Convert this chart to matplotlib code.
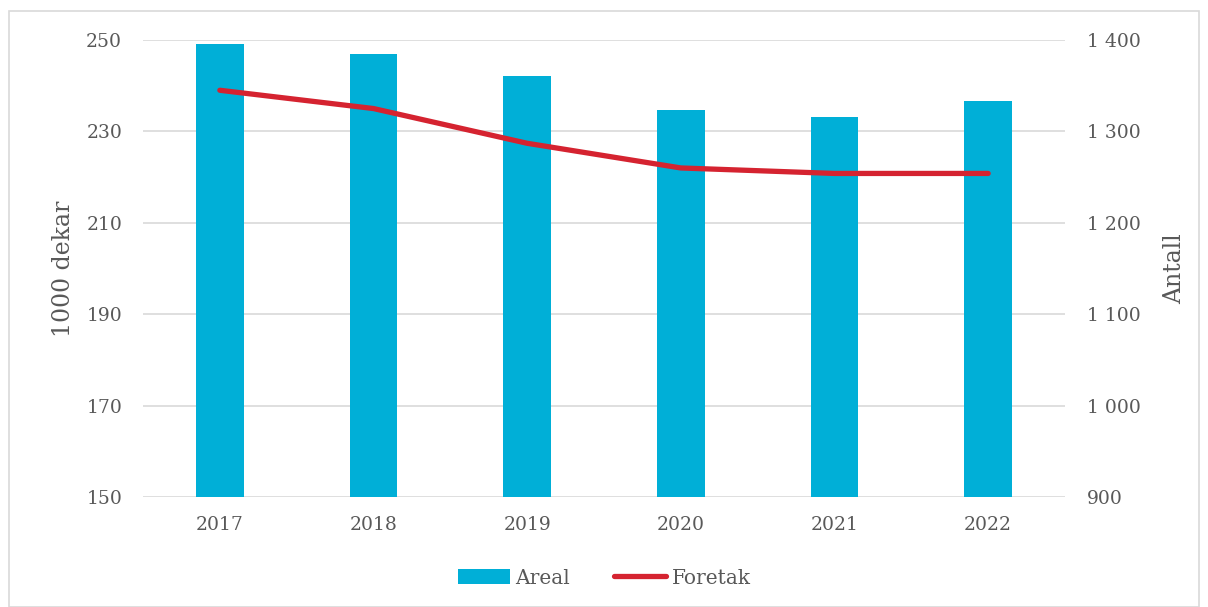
import matplotlib
matplotlib.use("Agg")
import matplotlib.pyplot as plt
from matplotlib.patches import Rectangle
from matplotlib.ticker import FuncFormatter

years = ["2017", "2018", "2019", "2020", "2021", "2022"]
areal = [249.1, 246.9, 242.1, 234.7, 233.2, 236.7]
foretak = [1345, 1325, 1287, 1260, 1254, 1254]
left_ticks = [150, 170, 190, 210, 230, 250]
right_ticks = [900, 1000, 1100, 1200, 1300, 1400]

plt.rcParams['font.family'] = ['DejaVu Serif']
txt = '#595959'
grid = '#d9d9d9'
bar_c = '#00AFD7'
line_c = '#D52330'

fig = plt.figure(figsize=(12.08, 6.07), dpi=100)
ax = fig.add_axes([143/1208, 1-497/607, (1065-143)/1208, (497-40)/607])
ax2 = ax.twinx()

x = list(range(len(years)))
bars = ax.bar(x, areal, width=0.31, color=bar_c, label='Areal', zorder=2)
ax.set_ylim(150, 250)
ax.set_yticks(left_ticks)
ax.set_xlim(-0.5, 5.5)
ax.set_xticks(x)
ax.set_xticklabels(years)
ax.yaxis.grid(True, color=grid, linewidth=1.2, zorder=0)
ax.set_axisbelow(True)
for s in ax.spines.values():
    s.set_visible(False)
for s in ax2.spines.values():
    s.set_visible(False)
ax.tick_params(axis='both', length=0, labelsize=13.5, colors=txt)
ax.tick_params(axis='y', pad=15)
ax.tick_params(axis='x', pad=14)
ax.set_ylabel('1000 dekar', fontsize=17, color=txt, labelpad=8)

line, = ax2.plot(x, foretak, color=line_c, linewidth=3.8, solid_capstyle='round',
                 solid_joinstyle='round', label='Foretak', zorder=3)
ax2.set_ylim(900, 1400)
ax2.set_yticks(right_ticks)
ax2.yaxis.set_major_formatter(FuncFormatter(lambda v, p: f"{int(v):,}".replace(",", " ")))
ax2.tick_params(axis='y', length=0, labelsize=13.5, colors=txt, pad=16)
ax2.set_ylabel('Antall', fontsize=17, color=txt, labelpad=16)

leg = fig.legend(handles=[bars, line], labels=['Areal', 'Foretak'], loc='center',
                 bbox_to_anchor=(0.5, 1-578/607), ncol=2, frameon=False,
                 fontsize=14.5, labelcolor=txt, handlelength=2.6, columnspacing=2.2,
                 handletextpad=0.25)

fig.patches.append(Rectangle((9/1208, 0.0), 1190/1208, 1-11/607, transform=fig.transFigure,
                             fill=False, edgecolor=grid, linewidth=1.2))

fig.savefig('out.png', dpi=100)
